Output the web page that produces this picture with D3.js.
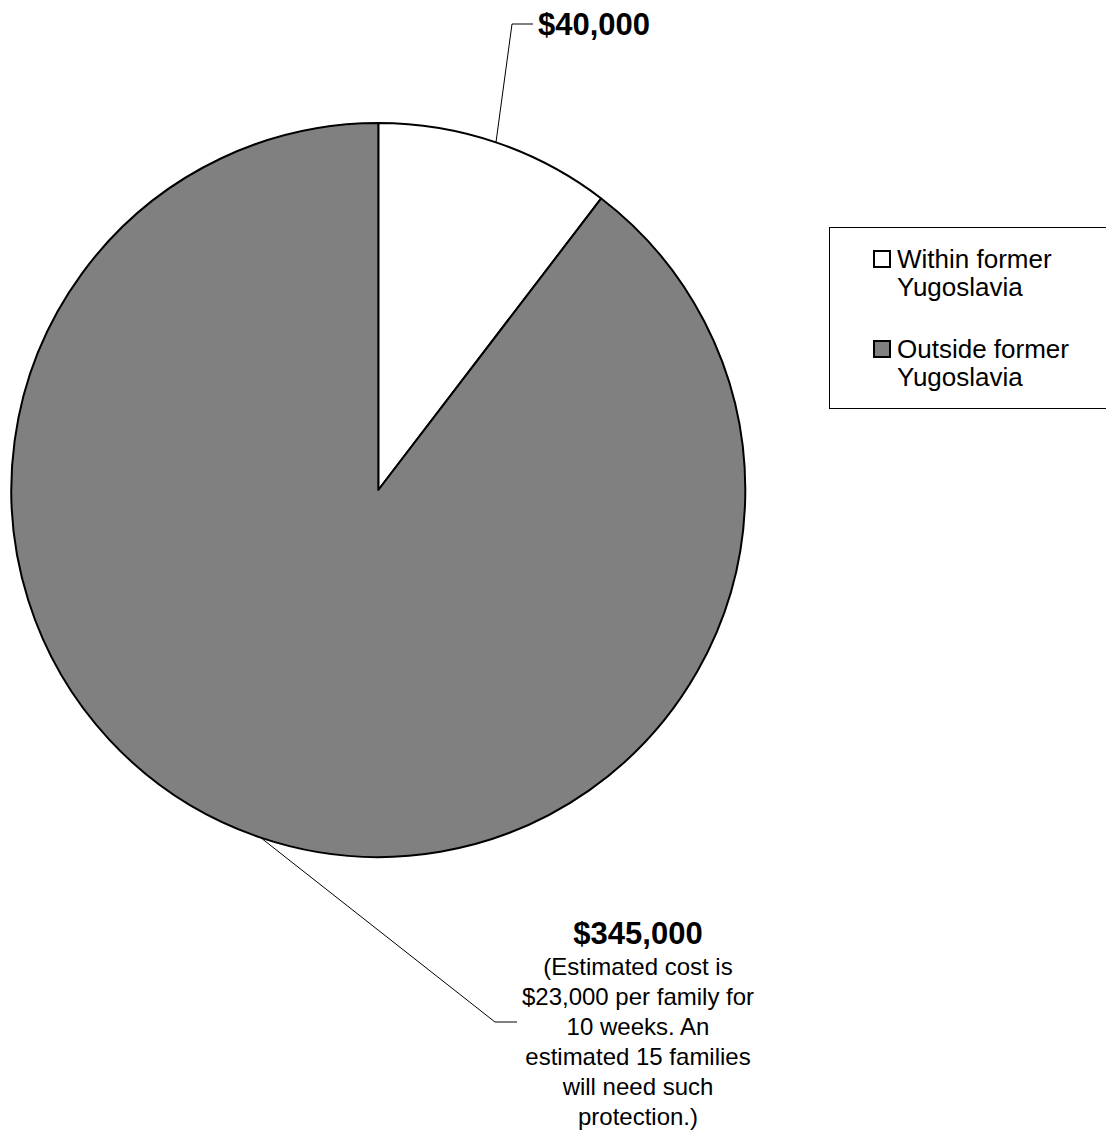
<!DOCTYPE html>
<html>
<head>
<meta charset="utf-8">
<script src="https://cdn.jsdelivr.net/npm/d3@7"></script>
<style>
  body { margin: 0; background: #fff; }
  svg { display: block; font-family: Arial, "Liberation Sans", sans-serif; }
</style>
</head>
<body>
<script>
// data
const categories = ["Within former Yugoslavia", "Outside former Yugoslavia"];
const values = [40000, 345000];
const valueLabels = ["$40,000", "$345,000"];
const legendLines = [["Within former", "Yugoslavia"], ["Outside former", "Yugoslavia"]];
const noteLines = ["(Estimated cost is", "$23,000 per family for", "10 weeks. An",
  "estimated 15 families", "will need such", "protection.)"];
const colors = ["#ffffff", "#808080"];

const width = 1106, height = 1130;
const cx = 378.3, cy = 490, radius = 367;

const svg = d3.select("body").append("svg")
  .attr("width", width)
  .attr("height", height);

const pie = d3.pie().sort(null).value(d => d);
const arcs = pie(values);
const arc = d3.arc().innerRadius(0).outerRadius(radius);

const g = svg.append("g").attr("transform", `translate(${cx},${cy})`);

g.selectAll("path")
  .data(arcs)
  .enter()
  .append("path")
  .attr("d", arc)
  .attr("fill", (d, i) => colors[i])
  .attr("stroke", "#000")
  .attr("stroke-width", 2)
  .attr("stroke-linejoin", "round");

// point on the rim at the middle of a slice
function rimMid(d) {
  const a = (d.startAngle + d.endAngle) / 2;
  return [cx + radius * Math.sin(a), cy - radius * Math.cos(a)];
}

// label for the small slice
svg.append("polyline")
  .attr("points", [rimMid(arcs[0]), [512, 24], [533, 24]].map(p => p.join(",")).join(" "))
  .attr("fill", "none")
  .attr("stroke", "#000")
  .attr("stroke-width", 1);

svg.append("text")
  .attr("x", 538)
  .attr("y", 35)
  .attr("font-size", 31)
  .attr("font-weight", "bold")
  .text(valueLabels[0]);

// label for the large slice
svg.append("polyline")
  .attr("points", [rimMid(arcs[1]), [495, 1022], [517, 1022]].map(p => p.join(",")).join(" "))
  .attr("fill", "none")
  .attr("stroke", "#000")
  .attr("stroke-width", 1);

svg.append("text")
  .attr("x", 638)
  .attr("y", 944)
  .attr("text-anchor", "middle")
  .attr("font-size", 31)
  .attr("font-weight", "bold")
  .text(valueLabels[1]);

svg.append("g")
  .selectAll("text")
  .data(noteLines)
  .enter()
  .append("text")
  .attr("x", 638)
  .attr("y", (d, i) => 975 + i * 30)
  .attr("text-anchor", "middle")
  .attr("font-size", 24)
  .text(d => d);

// legend
const legend = svg.append("g");
legend.append("rect")
  .attr("x", 829.5)
  .attr("y", 227.5)
  .attr("width", 290)
  .attr("height", 181)
  .attr("fill", "#fff")
  .attr("stroke", "#000")
  .attr("stroke-width", 1);

const items = legend.selectAll("g.item")
  .data(categories)
  .enter()
  .append("g")
  .attr("class", "item")
  .attr("transform", (d, i) => `translate(0,${i * 90})`);

items.append("rect")
  .attr("x", 874)
  .attr("y", 251)
  .attr("width", 16)
  .attr("height", 16)
  .attr("fill", (d, i) => colors[i])
  .attr("stroke", "#000")
  .attr("stroke-width", 2);

items.each(function(d, i) {
  d3.select(this).selectAll("text")
    .data(legendLines[i])
    .enter()
    .append("text")
    .attr("x", 897)
    .attr("y", (t, j) => 268 + j * 28)
    .attr("font-size", 26)
    .text(t => t);
});
</script>
</body>
</html>
